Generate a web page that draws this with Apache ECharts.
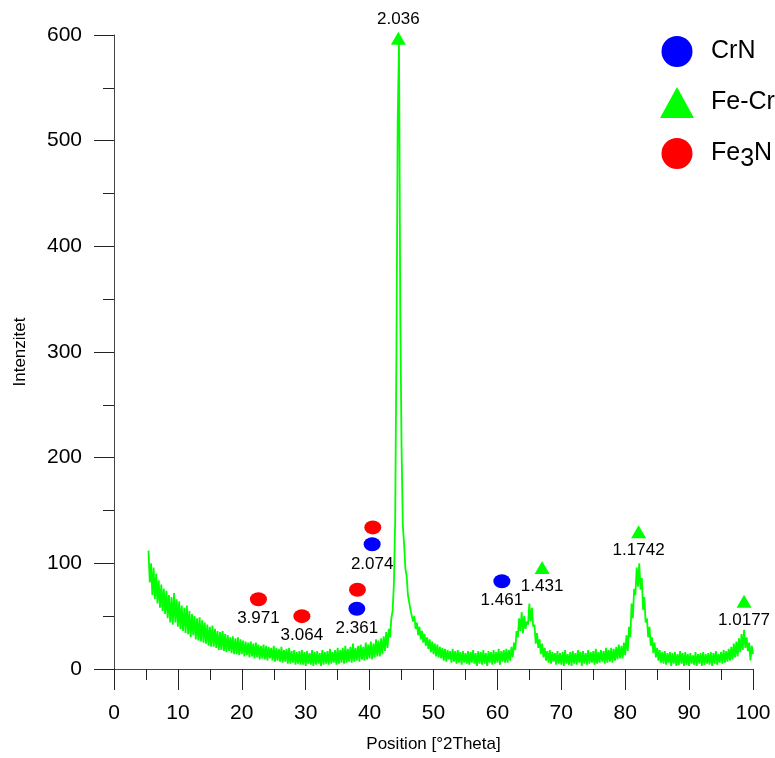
<!DOCTYPE html>
<html>
<head>
<meta charset="utf-8">
<script src="https://cdn.jsdelivr.net/npm/echarts@6/dist/echarts.min.js"></script>
<style>
  html, body { margin: 0; padding: 0; background: #fff; }
  #chart { width: 775px; height: 758px; }
</style>
</head>
<body>
<div id="chart"></div>
<script>
// XRD scan, counts, 0.2 deg steps from 5.4
var xStart = 5.4, xStep = 0.2;
var intensity = [
    112, 82, 100, 70, 96, 66, 90, 62, 84, 58,
    80, 55, 76, 52, 74, 48, 70, 44, 68, 42,
    72, 44, 66, 40, 64, 38, 60, 36, 58, 34,
    60, 33, 55, 30, 52, 32, 50, 28, 48, 27,
    49, 26, 46, 25, 44, 24, 42, 22, 40, 21,
    41, 21, 38, 20, 36, 18, 35, 18, 36, 17,
    33, 16, 32, 17, 30, 15, 31, 14, 29, 14,
    30, 13, 28, 14, 27, 12, 26, 13, 25, 11,
    26, 12, 24, 10, 25, 11, 23, 9, 22, 10,
    23, 9, 22, 8, 21, 10, 20, 8, 22, 7,
    20, 8, 19, 7, 21, 6, 18, 7, 19, 5,
    20, 5, 17, 6, 18, 4, 16, 5, 17, 4,
    18, 4, 16, 3, 17, 5, 15, 4, 18, 3,
    16, 4, 17, 5, 15, 3, 18, 4, 16, 5,
    17, 4, 19, 5, 16, 6, 18, 4, 20, 5,
    18, 6, 20, 5, 22, 6, 19, 7, 21, 6,
    24, 7, 20, 8, 22, 7, 23, 9, 21, 8,
    25, 9, 23, 10, 26, 9, 24, 11, 28, 12,
    27, 12, 29, 14, 31, 17, 35, 20, 38, 30,
    48, 55, 80, 140, 300, 520, 592, 340, 210, 136,
    118, 95, 88, 70, 70, 56, 57, 45, 50, 38,
    44, 32, 40, 28, 36, 25, 33, 22, 30, 19,
    28, 16, 26, 14, 24, 12, 23, 11, 21, 10,
    20, 8, 19, 7, 18, 9, 17, 6, 19, 7,
    17, 5, 18, 6, 16, 4, 17, 6, 15, 5,
    17, 4, 16, 6, 18, 5, 15, 3, 17, 5,
    16, 4, 18, 5, 15, 3, 17, 6, 16, 4,
    18, 5, 16, 6, 19, 4, 17, 7, 18, 6,
    19, 6, 18, 8, 21, 11, 25, 18, 36, 30,
    48, 36, 54, 34, 50, 38, 45, 42, 62, 45,
    58, 40, 42, 24, 34, 20, 28, 14, 24, 11,
    20, 8, 17, 6, 18, 5, 16, 7, 15, 4,
    17, 5, 15, 4, 16, 3, 18, 5, 14, 4,
    16, 3, 17, 5, 15, 4, 18, 6, 16, 3,
    17, 5, 15, 4, 18, 5, 16, 6, 17, 4,
    19, 5, 16, 6, 18, 7, 17, 5, 20, 6,
    18, 7, 20, 6, 19, 8, 21, 9, 23, 10,
    22, 10, 25, 13, 32, 17, 40, 30, 62, 48,
    76, 70, 96, 78, 100, 75, 86, 56, 68, 44,
    48, 30, 40, 22, 30, 15, 25, 11, 20, 8,
    18, 6, 16, 5, 17, 4, 15, 6, 16, 3,
    15, 5, 16, 3, 14, 4, 17, 5, 15, 3,
    16, 4, 14, 3, 15, 5, 13, 4, 16, 3,
    14, 5, 15, 3, 16, 4, 14, 5, 15, 4,
    16, 3, 15, 5, 17, 4, 14, 6, 16, 5,
    18, 6, 17, 7, 19, 8, 21, 9, 24, 11,
    26, 12, 29, 16, 33, 18, 37, 20, 30, 17,
    25, 8, 22, 14
];

// phase markers: [2theta, height, d-spacing]
var crnPts  = [[38.0, 57, '2.361'], [40.4, 118, '2.074'], [60.7, 83, '1.461']];
var feCrPts = [[44.5, 597, '2.036'], [67.0, 96, '1.431'], [82.1, 130, '1.1742'], [98.6, 64, '1.0177']];
var fe3nPts = [[22.6, 66, '3.971'], [29.4, 50, '3.064'], [38.1, 75, ''], [40.5, 134, '']];

var xTicks = [0, 10, 20, 30, 40, 50, 60, 70, 80, 90, 100];
var yTicks = [0, 100, 200, 300, 400, 500, 600];

var FONT = '"Liberation Sans", Arial, sans-serif';

var lineData = intensity.map(function (v, i) {
    return [+(xStart + i * xStep).toFixed(1), v];
});

function markerData(pts, topFirst) {
    return pts.map(function (p, i) {
        var item = { value: [p[0], p[1]], name: p[2] };
        if (topFirst && i === 0) item.label = { position: 'top' };
        return item;
    });
}

var markerLabel = {
    show: true,
    position: 'bottom',
    distance: 4,
    color: '#000',
    fontFamily: FONT,
    fontSize: 17,
    formatter: function (p) { return p.name; }
};

var myChart = echarts.init(document.getElementById('chart'), null, { renderer: 'canvas' });

var option = {
    animation: false,
    grid: { left: 114, top: 35, width: 639, height: 636 },
    legend: {
        orient: 'vertical',
        left: 660,
        top: 36,
        padding: 0,
        itemWidth: 34,
        itemHeight: 31,
        itemGap: 20,
        data: [
            { name: 'CrN', icon: 'circle' },
            { name: 'Fe-Cr', icon: 'triangle' },
            { name: 'Fe3N', icon: 'circle' }
        ],
        formatter: function (name) {
            if (name === 'Fe3N') return '{a|Fe}{s|3}{b|N}';
            return '{a|' + name + '}';
        },
        textStyle: {
            rich: {
                a: { fontFamily: FONT, fontSize: 25, color: '#000', padding: [0, 0, 0, 12] },
                s: { fontFamily: FONT, fontSize: 25, color: '#000', padding: [12, 0, 0, 0] },
                b: { fontFamily: FONT, fontSize: 25, color: '#000' }
            }
        }
    },
    xAxis: {
        type: 'value',
        min: xTicks[0],
        max: xTicks[xTicks.length - 1],
        interval: 10,
        name: 'Position [°2Theta]',
        nameLocation: 'middle',
        nameGap: 67,
        nameTextStyle: { fontFamily: FONT, fontSize: 17, color: '#000' },
        axisLine: { lineStyle: { color: '#444', width: 1 } },
        axisTick: { show: true, length: 21, lineStyle: { color: '#222' } },
        minorTick: { show: true, splitNumber: 2, length: 11, lineStyle: { color: '#222' } },
        splitLine: { show: false },
        axisLabel: { margin: 34, fontFamily: FONT, fontSize: 21, color: '#000' }
    },
    yAxis: {
        type: 'value',
        min: yTicks[0],
        max: yTicks[yTicks.length - 1],
        interval: 100,
        name: 'Intenzitet',
        nameLocation: 'middle',
        nameGap: 85,
        nameTextStyle: { fontFamily: FONT, fontSize: 17, color: '#000' },
        axisLine: { show: true, lineStyle: { color: '#444', width: 1 } },
        axisTick: { show: true, length: 20, lineStyle: { color: '#222' } },
        minorTick: { show: true, splitNumber: 2, length: 11, lineStyle: { color: '#222' } },
        splitLine: { show: false },
        axisLabel: { margin: 32, fontFamily: FONT, fontSize: 21, color: '#000' }
    },
    series: [
        {
            name: 'scan',
            type: 'line',
            data: lineData,
            showSymbol: false,
            symbol: 'none',
            sampling: 'none',
            lineStyle: { color: '#00ff00', width: 1.8 },
            z: 2
        },
        {
            name: 'CrN',
            type: 'scatter',
            data: markerData(crnPts, false),
            symbol: 'circle',
            symbolSize: [17, 14],
            itemStyle: { color: '#0000ff', opacity: 1 },
            label: markerLabel,
            z: 5
        },
        {
            name: 'Fe-Cr',
            type: 'scatter',
            data: markerData(feCrPts, true),
            symbol: 'triangle',
            symbolSize: [15, 13],
            itemStyle: { color: '#00ff00', opacity: 1 },
            label: markerLabel,
            z: 5
        },
        {
            name: 'Fe3N',
            type: 'scatter',
            data: markerData(fe3nPts, false),
            symbol: 'circle',
            symbolSize: [17, 14],
            itemStyle: { color: '#ff0000', opacity: 1 },
            label: markerLabel,
            z: 5
        }
    ]
};

myChart.setOption(option);
</script>
</body>
</html>
